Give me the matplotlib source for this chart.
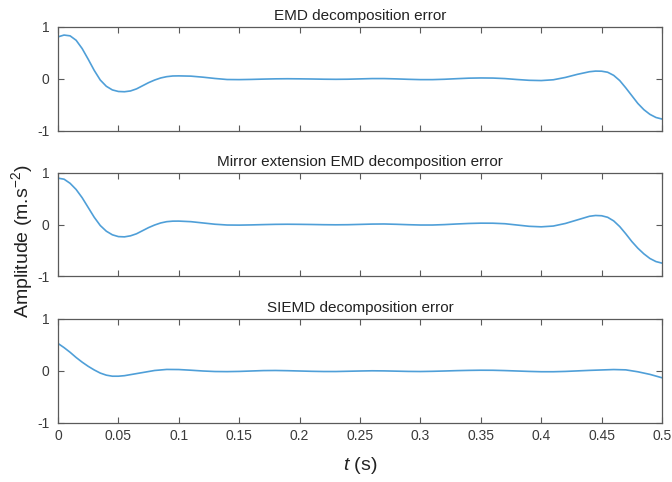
import matplotlib
matplotlib.use("Agg")
import matplotlib.pyplot as plt
from matplotlib.ticker import FixedLocator, FixedFormatter

plt.rcParams['font.family'] = ['Liberation Sans', 'DejaVu Sans']
plt.rcParams['mathtext.fontset'] = 'custom'
plt.rcParams['mathtext.rm'] = 'Liberation Sans'
plt.rcParams['mathtext.it'] = 'Liberation Sans:italic'

titles = ["EMD decomposition error",
          "Mirror extension EMD decomposition error",
          "SIEMD decomposition error"]

t_emd = [0, 0.005, 0.01, 0.015, 0.02, 0.025, 0.03, 0.035, 0.04, 0.045, 0.05, 0.055,
         0.06, 0.065, 0.07, 0.075, 0.08, 0.085, 0.09, 0.095, 0.1, 0.11, 0.12, 0.13,
         0.14, 0.15, 0.16, 0.17, 0.18, 0.19, 0.2, 0.21, 0.22, 0.23, 0.24, 0.25, 0.26,
         0.27, 0.28, 0.29, 0.3, 0.31, 0.32, 0.33, 0.34, 0.35, 0.36, 0.37, 0.38, 0.39,
         0.4, 0.41, 0.42, 0.43, 0.44, 0.445, 0.45, 0.455, 0.46, 0.465, 0.47, 0.475,
         0.48, 0.485, 0.49, 0.495, 0.5]
emd_err = [0.81, 0.845, 0.83, 0.745, 0.585, 0.38, 0.165, -0.02, -0.14, -0.21, -0.24, -0.245,
           -0.23, -0.19, -0.13, -0.07, -0.02, 0.02, 0.045, 0.058, 0.06, 0.055, 0.035, 0.01,
           -0.01, -0.012, -0.008, -0.002, 0.003, 0.005, 0.003, 0.0, -0.004, -0.006, -0.004,
           0.002, 0.008, 0.008, 0.002, -0.006, -0.012, -0.012, -0.005, 0.006, 0.016, 0.02,
           0.018, 0.008, -0.01, -0.025, -0.03, -0.015, 0.03, 0.09, 0.14, 0.152, 0.15, 0.13,
           0.07, -0.03, -0.17, -0.32, -0.47, -0.59, -0.68, -0.74, -0.77]

t_mirror = t_emd
mirror_err = [0.9, 0.88, 0.8, 0.68, 0.52, 0.33, 0.14, -0.02, -0.13, -0.2, -0.235, -0.24,
              -0.22, -0.18, -0.12, -0.06, -0.01, 0.03, 0.055, 0.065, 0.066, 0.055, 0.03, 0.005,
              -0.01, -0.012, -0.008, -0.002, 0.003, 0.005, 0.003, 0.0, -0.004, -0.006, -0.004,
              0.002, 0.008, 0.01, 0.004, -0.004, -0.01, -0.01, -0.002, 0.01, 0.02, 0.026,
              0.025, 0.015, -0.01, -0.035, -0.045, -0.03, 0.02, 0.09, 0.16, 0.175, 0.17, 0.14,
              0.07, -0.04, -0.18, -0.33, -0.46, -0.57, -0.66, -0.72, -0.75]

t_siemd = [0, 0.005, 0.01, 0.015, 0.02, 0.025, 0.03, 0.035, 0.04, 0.045, 0.05, 0.055,
           0.06, 0.07, 0.08, 0.09, 0.1, 0.11, 0.12, 0.13, 0.14, 0.15, 0.16, 0.17, 0.18,
           0.19, 0.2, 0.21, 0.22, 0.23, 0.24, 0.25, 0.26, 0.27, 0.28, 0.29, 0.3, 0.31,
           0.32, 0.33, 0.34, 0.35, 0.36, 0.37, 0.38, 0.39, 0.4, 0.41, 0.42, 0.43, 0.44,
           0.45, 0.46, 0.47, 0.48, 0.49, 0.5]
siemd_err = [0.53, 0.45, 0.36, 0.26, 0.17, 0.09, 0.02, -0.04, -0.08, -0.1, -0.1, -0.09,
             -0.07, -0.03, 0.01, 0.03, 0.028, 0.015, 0.0, -0.01, -0.012, -0.008, 0.0, 0.008,
             0.01, 0.006, 0.0, -0.006, -0.01, -0.01, -0.005, 0.0, 0.004, 0.002, -0.003,
             -0.008, -0.01, -0.006, 0.0, 0.007, 0.012, 0.015, 0.014, 0.008, 0.0, -0.008,
             -0.014, -0.014, -0.008, 0.002, 0.012, 0.02, 0.028, 0.022, -0.015, -0.065, -0.13]

series = [(t_emd, emd_err), (t_mirror, mirror_err), (t_siemd, siemd_err)]

xticks = [0, 0.05, 0.1, 0.15, 0.2, 0.25, 0.3, 0.35, 0.4, 0.45, 0.5]
xticklabels = ["0", "0.05", "0.1", "0.15", "0.2", "0.25", "0.3", "0.35", "0.4", "0.45", "0.5"]
yticks = [-1, 0, 1]
yticklabels = ["-1", "0", "1"]

fig = plt.figure(figsize=(6.72, 4.82), dpi=100)
W, H = 672, 482
boxes = [(27, 131), (173, 276), (319, 423)]
left, right = 58, 662
line_color = '#4f9fd8'
spine_color = '#5a5a5a'
text_color = '#3a3a3a'

for i, ((top, bot), (t, y), title) in enumerate(zip(boxes, series, titles)):
    ax = fig.add_axes([left / W, 1 - bot / H, (right - left) / W, (bot - top) / H])
    ax.plot(t, y, color=line_color, lw=1.2)
    ax.set_xlim(0, 0.5)
    ax.set_ylim(-1, 1)
    ax.xaxis.set_major_locator(FixedLocator(xticks))
    ax.yaxis.set_major_locator(FixedLocator(yticks))
    ax.yaxis.set_major_formatter(FixedFormatter(yticklabels))
    if i == 2:
        ax.xaxis.set_major_formatter(FixedFormatter(xticklabels))
    else:
        ax.set_xticklabels([])
    ax.tick_params(direction='in', top=True, right=True, length=4, width=0.8,
                   color=spine_color, labelcolor=text_color, labelsize=10)
    ax.tick_params(axis='y', pad=6)
    ax.tick_params(axis='x', pad=4)
    for s in ax.spines.values():
        s.set_color(spine_color)
        s.set_linewidth(0.9)
    ax.set_title(title, fontsize=11, color='#222222', pad=5)

fig.text(22 / W, 0.5, "Amplitude (m.s$^{-2}$)", rotation=90, va='center', ha='center',
         fontsize=14, color='#222222')
fig.text(0.5 * (left + right) / W, 1 - 466 / H, "$\\it{t}$ (s)", ha='center', va='center',
         fontsize=14, color='#222222')

fig.savefig("out.png", dpi=100)
